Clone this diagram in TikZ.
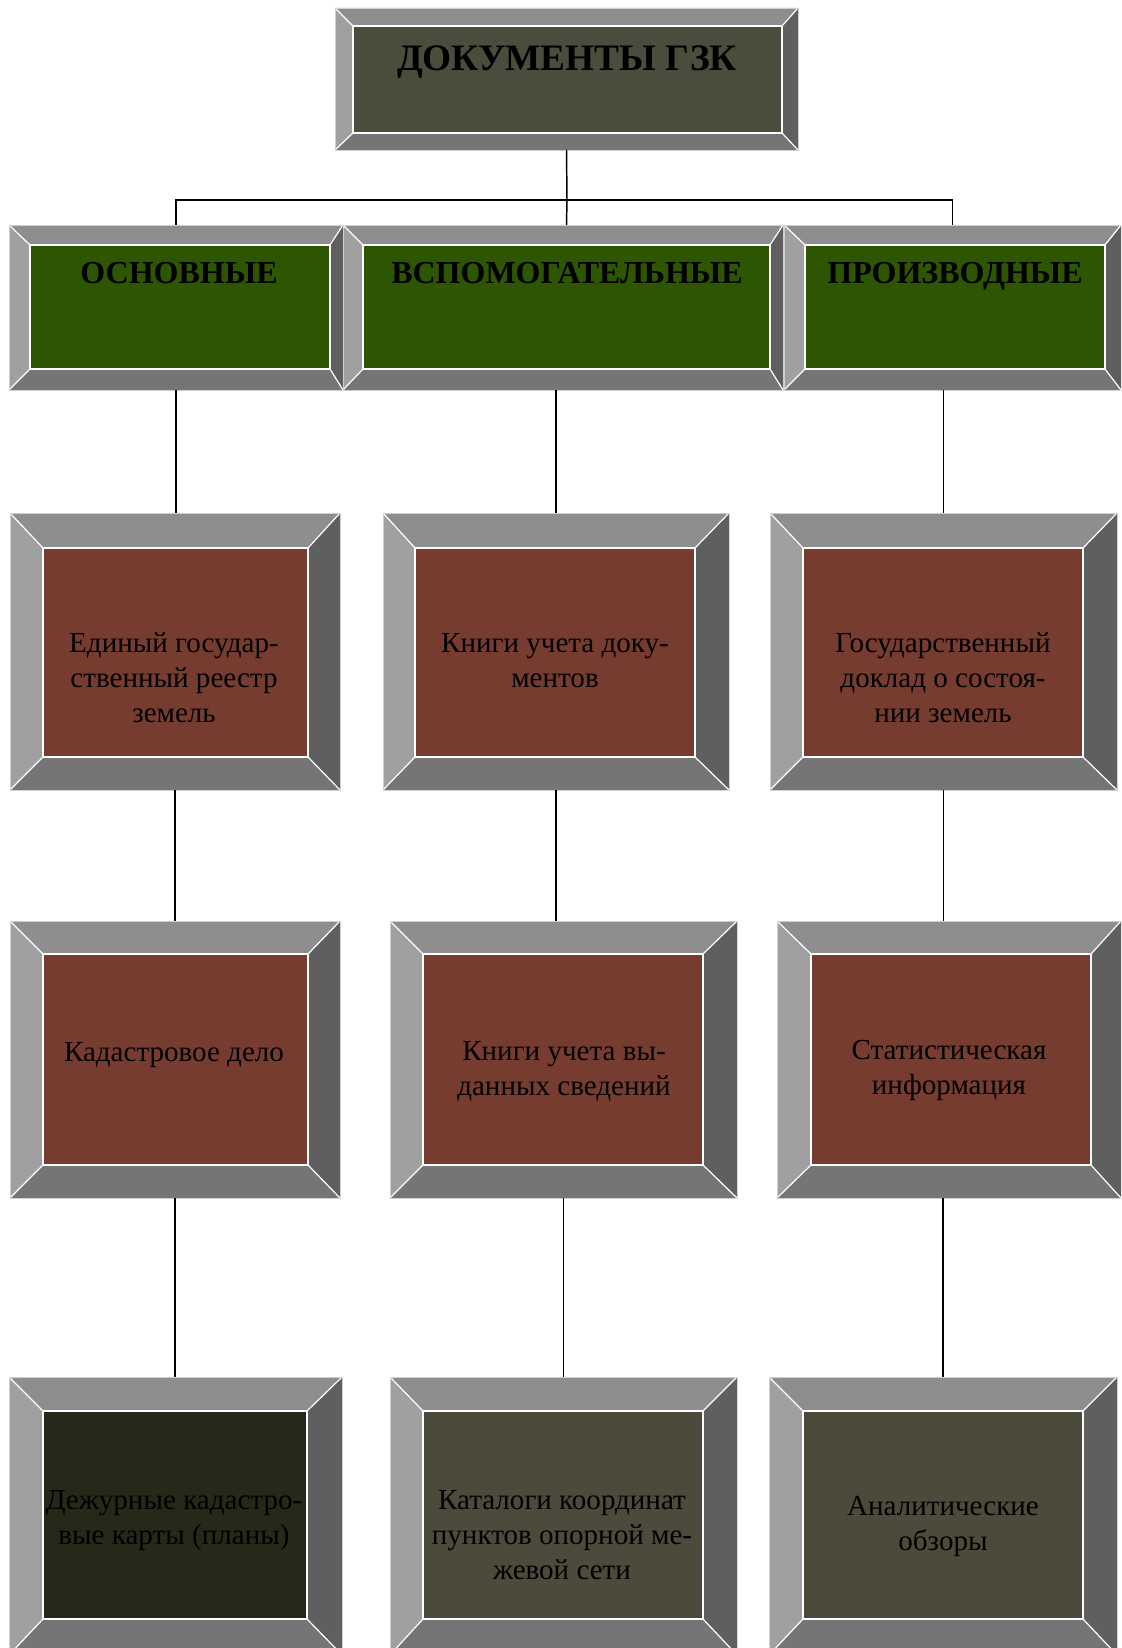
\documentclass[tikz,border=0pt]{standalone}
\usepackage{fontspec}
\setmainfont{Liberation Serif}
\usetikzlibrary{calc,fit}
\definecolor{titlefill}{HTML}{4C4C3D}
\definecolor{greenfill}{HTML}{2E5602}
\definecolor{redfill}{HTML}{763C30}
\definecolor{olivefill}{HTML}{4B4A3B}
\definecolor{darkolive}{HTML}{28281A}
\definecolor{bvtopc}{HTML}{8E8E8E}
\definecolor{bvleftc}{HTML}{A0A0A0}
\definecolor{bvrightc}{HTML}{5F5F5F}
\definecolor{bvbottomc}{HTML}{757575}
\definecolor{bvedgec}{HTML}{D0D0D0}
\tikzset{
  boxnode/.style={inner sep=0pt, outer sep=0pt},
  bvtop/.style={fill=bvtopc},
  bvleft/.style={fill=bvleftc},
  bvright/.style={fill=bvrightc},
  bvbottom/.style={fill=bvbottomc},
  bvline/.style={draw=white, line width=0.9pt},
  bvedge/.style={draw=bvedgec, line width=0.6pt},
  conn/.style={draw=black, line width=1.1pt},
  titletext/.style={font=\bfseries\fontsize{28}{32}\selectfont, inner sep=0pt, text=black},
  gtext/.style={font=\bfseries\fontsize{24}{28}\selectfont, inner sep=0pt, text=black},
  bodytext/.style={font=\fontsize{21.8}{26.3}\selectfont, align=center, inner sep=0pt, text=black, anchor=north}
}
% #1 name, #2 NW corner, #3 SE corner, #4 left, #5 top, #6 right, #7 bottom bevel, #8 fill
\newcommand\bevelbox[8]{%
  \node[boxnode, fit={#2 #3}] (#1) {};
  \coordinate (#1-inw) at ($(#1.north west)+(#4,#5)$);
  \coordinate (#1-ine) at ($(#1.north east)+(-#6,#5)$);
  \coordinate (#1-ise) at ($(#1.south east)+(-#6,-#7)$);
  \coordinate (#1-isw) at ($(#1.south west)+(#4,-#7)$);
  \fill[bvtop] (#1.north west) -- (#1.north east) -- (#1-ine) -- (#1-inw) -- cycle;
  \fill[bvright] (#1.north east) -- (#1.south east) -- (#1-ise) -- (#1-ine) -- cycle;
  \fill[bvbottom] (#1.south east) -- (#1.south west) -- (#1-isw) -- (#1-ise) -- cycle;
  \fill[bvleft] (#1.south west) -- (#1.north west) -- (#1-inw) -- (#1-isw) -- cycle;
  \fill[#8] (#1-inw) rectangle (#1-ise);
  \draw[bvline] (#1.north west) -- (#1-inw) (#1.north east) -- (#1-ine)
                (#1.south east) -- (#1-ise) (#1.south west) -- (#1-isw);
  \draw[bvline] (#1-inw) rectangle (#1-ise);
  \draw[bvedge] (#1.north west) rectangle (#1.south east);
}
\begin{document}
\begin{tikzpicture}[x=0.75pt,y=-0.75pt]
\useasboundingbox (0,0) rectangle (1121,1648);
\fill[white] (0,0) rectangle (1121,1648);
\clip (0,0) rectangle (1121,1648);

% title
\bevelbox{top}{(335,8)}{(798,150)}{18}{18}{16}{17}{titlefill}
% green row
\bevelbox{g1}{(9,225)}{(343,390)}{21}{20}{13}{21}{greenfill}
\bevelbox{g2}{(343,225)}{(783,390)}{20}{20}{13}{21}{greenfill}
\bevelbox{g3}{(784,225)}{(1121,390)}{21}{20}{16}{21}{greenfill}
% row 2
\bevelbox{r2a}{(10,513)}{(340,790)}{33}{35}{32}{33}{redfill}
\bevelbox{r2b}{(383,513)}{(729,790)}{32}{35}{34}{33}{redfill}
\bevelbox{r2c}{(770,513)}{(1117,790)}{33}{35}{34}{33}{redfill}
% row 3
\bevelbox{r3a}{(10,921)}{(340,1198)}{33}{33}{32}{33}{redfill}
\bevelbox{r3b}{(390,921)}{(737,1198)}{33}{33}{34}{33}{redfill}
\bevelbox{r3c}{(777,921)}{(1121,1198)}{34}{33}{30}{33}{redfill}
% row 4
\bevelbox{r4a}{(9,1377)}{(342,1655)}{34}{34}{35}{36}{darkolive}
\bevelbox{r4b}{(390,1377)}{(737,1655)}{33}{34}{34}{36}{olivefill}
\bevelbox{r4c}{(769,1377)}{(1117,1655)}{34}{34}{34}{36}{olivefill}

% texts
\node[titletext, anchor=base] (ttitle) at (567,71) {ДОКУМЕНТЫ ГЗК};
\node[gtext, anchor=base] (tg1) at (179,283) {ОСНОВНЫЕ};
\node[gtext, anchor=base] (tg2) at (567,283) {ВСПОМОГАТЕЛЬНЫЕ};
\node[gtext, anchor=base] (tg3) at (955,283) {ПРОИЗВОДНЫЕ};

\node[bodytext] (t2a) at (174,632) {Единый государ-\\ственный реестр\\земель};
\node[bodytext] (t2b) at (555,633) {Книги учета доку-\\ментов};
\node[bodytext] (t2c) at (943,632) {Государственный\\доклад о состоя-\\нии земель};
\node[bodytext] (t3a) at (174,1042) {Кадастровое дело};
\node[bodytext] (t3b) at (564,1041) {Книги учета вы-\\данных сведений};
\node[bodytext] (t3c) at (949,1040) {Статистическая\\информация};
\node[bodytext] (t4a) at (174,1490) {Дежурные кадастро-\\вые карты (планы)};
\node[bodytext] (t4b) at (562,1490) {Каталоги координат\\пунктов опорной ме-\\жевой сети};
\node[bodytext] (t4c) at (943,1496) {Аналитические\\обзоры};

% connectors
\coordinate (bus) at (567,200);
\draw[conn] (top.south) -- (bus);
\draw[conn] (g1.north) -- (g1.north |- bus) -- (g3.north |- bus) -- (g3.north);
\draw[conn] (bus) -- (top.south |- g2.north);
\draw[conn] (g1.south) -- (g1.south |- r2a.north);
\draw[conn] (r2b.north) -- (r2b.north |- g2.south);
\draw[conn] (r2c.north) -- (r2c.north |- g3.south);
\draw[conn] (r2a.south) -- (r2a.south |- r3a.north);
\draw[conn] (r2b.south) -- (r2b.south |- r3b.north);
\draw[conn] (r2c.south) -- (r2c.south |- r3c.north);
\draw[conn] (r3a.south) -- (r3a.south |- r4a.north);
\draw[conn] (r4b.north) -- (r4b.north |- r3b.south);
\draw[conn] (r4c.north) -- (r4c.north |- r3c.south);
\end{tikzpicture}
\end{document}
